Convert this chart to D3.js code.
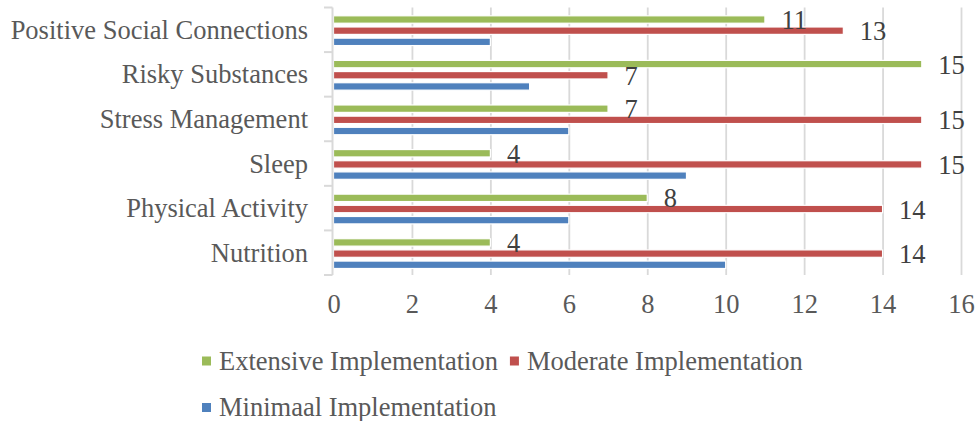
<!DOCTYPE html>
<html>
<head>
<meta charset="utf-8">
<script src="https://cdn.jsdelivr.net/npm/d3@7"></script>
<style>
  html, body { margin: 0; padding: 0; background: #ffffff; }
  svg { display: block; }
  text { font-family: "Liberation Serif", "Times New Roman", serif; }
</style>
</head>
<body>
<svg id="chart" width="978" height="421"></svg>
<script>
// Categories, listed top to bottom
const categories = [
  "Positive Social Connections",
  "Risky Substances",
  "Stress Management",
  "Sleep",
  "Physical Activity",
  "Nutrition"
];

// Series names (legend order) and colours
const seriesNames = [
  "Extensive Implementation",
  "Moderate Implementation",
  "Minimaal Implementation"
];
const seriesColors = ["#9bbb59", "#c0504d", "#4f81bd"];

// Values per series, in category order
const extensiveValues = [11, 15, 7, 4, 8, 4];
const moderateValues  = [13, 7, 15, 15, 14, 14];
const minimalValues   = [4, 5, 6, 9, 6, 10];

// Which series carry value labels
const labelledSeries = [true, true, false];

// Axis ticks
const xTicks = [0, 2, 4, 6, 8, 10, 12, 14, 16];

const seriesValues = [extensiveValues, moderateValues, minimalValues];

const svg = d3.select("#chart");
const fontSize = 26.5;
const axisGray = "#d9d9d9";
const textGray = "#595959";

const plotTop = 7.5, plotBottom = 275;
const x = d3.scaleLinear().domain([0, 16]).range([333.5, 961]);
const y = d3.scaleBand().domain(categories).range([plotTop, plotBottom]).padding(0);
const bw = y.bandwidth();
const y1 = d3.scaleBand()
  .domain(seriesNames)
  .range([bw * 0.144, bw * 0.896])
  .paddingInner(0.3375)
  .paddingOuter(0.169);

// Vertical gridlines
const grid = svg.append("g")
  .attr("transform", `translate(0,${plotBottom})`)
  .call(d3.axisBottom(x).tickValues(xTicks.filter(t => t > 0)).tickSize(-(plotBottom - plotTop)).tickFormat(""));
grid.select(".domain").remove();
grid.selectAll(".tick line").attr("stroke", axisGray).attr("stroke-width", 1.8);

// X tick labels
const xAxis = svg.append("g")
  .attr("transform", `translate(0,${plotBottom})`)
  .call(d3.axisBottom(x).tickValues(xTicks).tickSize(0).tickPadding(0).tickFormat(d3.format("d")));
xAxis.select(".domain").remove();
xAxis.selectAll(".tick text")
  .attr("y", 38)
  .attr("dy", null)
  .attr("font-size", fontSize)
  .attr("font-family", "'Liberation Serif', 'Times New Roman', serif")
  .attr("fill", textGray);

// Bars
const groups = svg.append("g").selectAll("g")
  .data(categories)
  .join("g")
  .attr("transform", d => `translate(0,${y(d)})`);

groups.each(function(cat, ci) {
  const g = d3.select(this);
  seriesNames.forEach((s, si) => {
    const v = seriesValues[si][ci];
    g.append("rect")
      .attr("x", x(0))
      .attr("y", y1(s))
      .attr("width", x(v) - x(0))
      .attr("height", y1.bandwidth())
      .attr("fill", seriesColors[si])
      .attr("stroke", "#ffffff")
      .attr("stroke-width", 1.2);
  });
});

// Left axis line with category separator ticks
const yAxis = svg.append("g");
yAxis.append("line")
  .attr("x1", 332.5).attr("x2", 332.5)
  .attr("y1", plotTop).attr("y2", plotBottom)
  .attr("stroke", axisGray).attr("stroke-width", 2);
const boundaries = categories.map(c => y(c)).concat([plotBottom]);
yAxis.selectAll("line.sep")
  .data(boundaries)
  .join("line")
  .attr("class", "sep")
  .attr("x1", 324).attr("x2", 332.5)
  .attr("y1", d => d).attr("y2", d => d)
  .attr("stroke", axisGray).attr("stroke-width", 2);

// Category labels
svg.append("g").selectAll("text")
  .data(categories)
  .join("text")
  .attr("x", 308)
  .attr("y", d => y(d) + bw / 2 + 9)
  .attr("text-anchor", "end")
  .attr("font-size", fontSize)
  .attr("fill", textGray)
  .text(d => d);

// Value labels
const labels = svg.append("g");
categories.forEach((cat, ci) => {
  seriesNames.forEach((s, si) => {
    if (!labelledSeries[si]) return;
    const v = seriesValues[si][ci];
    labels.append("text")
      .attr("x", x(v) + 16.5)
      .attr("y", y(cat) + y1(s) + y1.bandwidth() / 2 + 9.5)
      .attr("font-size", fontSize)
      .attr("fill", "#404040")
      .text(v);
  });
});

// Legend
const legend = svg.append("g");
const rows = [[0, 1], [2]];
const rowBaselines = [369.5, 416];
rows.forEach((row, ri) => {
  let cx = 202;
  row.forEach(si => {
    legend.append("rect")
      .attr("x", cx)
      .attr("y", rowBaselines[ri] - 13)
      .attr("width", 9)
      .attr("height", 9)
      .attr("fill", seriesColors[si]);
    const t = legend.append("text")
      .attr("x", cx + 17)
      .attr("y", rowBaselines[ri])
      .attr("font-size", fontSize)
      .attr("fill", textGray)
      .text(seriesNames[si]);
    cx = cx + 17 + t.node().getComputedTextLength() + 12;
  });
});
</script>
</body>
</html>
